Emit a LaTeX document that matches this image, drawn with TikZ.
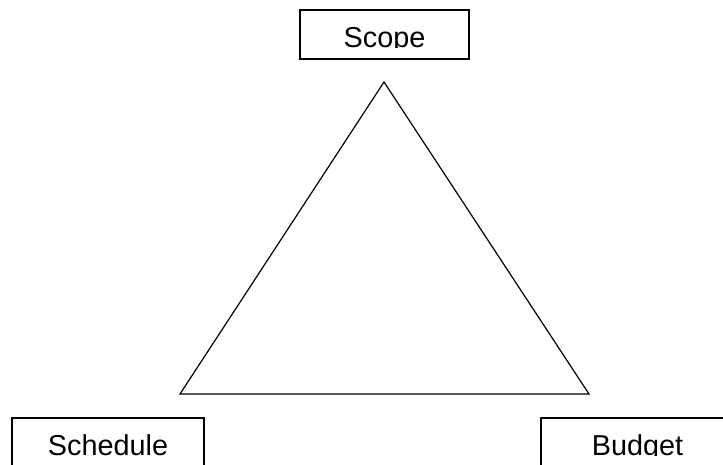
\documentclass[tikz,border=0pt]{standalone}
\usepackage{fontspec}
\setmainfont{Liberation Sans}
\begin{document}
\begin{tikzpicture}[x=1pt,y=-1pt,
  box/.style={draw, line width=1.3pt, rectangle, inner sep=0pt, minimum height=49pt},
  lbl/.style={font=\fontsize{28.8}{34}\selectfont, inner sep=0pt, anchor=base},
  edge/.style={line width=1.2pt, line join=miter}]
\useasboundingbox (0,0) rectangle (723,465);
\clip (0,0) rectangle (723,465);
\node[box, minimum width=169pt] (scope) at (384.5,34.5) {};
\node[box, minimum width=192pt] (schedule) at (108,442.5) {};
\node[box, minimum width=210pt] (budget) at (646,442.5) {};
\begin{scope}
  \clip (scope.north west) rectangle ([yshift=-38pt]scope.north east);
  \node[lbl] (scopetxt) at ([yshift=-38pt]scope.north) {Scope};
\end{scope}
\node[lbl] (scheduletxt) at ([yshift=-38pt]schedule.north) {Schedule};
\begin{scope}
  \clip (budget.north west) rectangle ([yshift=-38pt]budget.north east);
  \node[lbl] (budgettxt) at ([yshift=-38pt,xshift=-8.5pt]budget.north) {Budget};
\end{scope}
\coordinate (apex) at (384,82);
\coordinate (bl) at (180,394);
\coordinate (br) at (589,394);
\draw[edge] (apex) -- (bl) -- (br) -- cycle;
\end{tikzpicture}
\end{document}
